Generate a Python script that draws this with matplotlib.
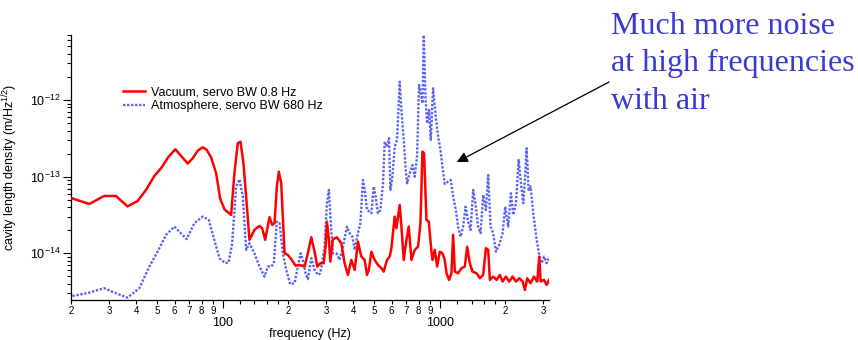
import matplotlib
matplotlib.use("Agg")
import matplotlib.pyplot as plt
import numpy as np

plt.rcParams['font.family'] = ['Liberation Sans', 'DejaVu Sans']
plt.rcParams['mathtext.fontset'] = 'custom'
plt.rcParams['mathtext.rm'] = 'Liberation Sans'
plt.rcParams['mathtext.it'] = 'Liberation Sans:italic'

# ---- data ----
vac_freq = [20.3, 24.3, 28.4, 32.2, 36.4, 40.5, 44.3, 48.4, 52.0, 56.3, 60.5, 69.0, 72.7, 76.7,
            80.9, 84.4, 88.4, 93.2, 97.3, 101.8, 109.3, 113.2, 117.3, 120.7, 124.6, 128.2, 132.8,
            140.0, 147.7, 152.0, 156.9, 164.3, 169.0, 173.3, 177.5, 181.3, 186.0, 192.7, 199.5,
            206.9, 216.5, 225.9, 238.2, 246.7, 255.8, 265.0, 272.7, 281.6, 291.6, 297.8, 302.0,
            308.4, 313.0, 321.8, 335.7, 351.9, 364.4, 377.4, 391.3, 405.3, 419.8, 435.2, 450.7,
            461.8, 471.7, 484.0, 501, 519, 538, 551.6, 571, 587.8, 598.5, 619.9, 631.2, 653.7,
            665.7, 682.2, 702, 719.4, 740.3, 766.7, 794.1, 814.5, 832.1, 846.4, 868.1, 889.6,
            899.2, 915.6, 925.3, 948.2, 971.7, 1000, 1029, 1054, 1074, 1104, 1132, 1152, 1173,
            1214, 1259, 1304, 1337, 1375, 1415, 1477, 1530, 1584, 1631, 1671, 1701, 1762, 1827,
            1892, 1947, 2016, 2089, 2165, 2243, 2323, 2408, 2467, 2529, 2621, 2715, 2812, 2872,
            2915, 3020, 3107, 3185]
vac_dens = [5.2e-14, 4.4e-14, 5.6e-14, 5.6e-14, 4.1e-14, 4.8e-14, 6.7e-14, 1.02e-13, 1.29e-13,
            1.82e-13, 2.28e-13, 1.48e-13, 1.74e-13, 2.18e-13, 2.42e-13, 2.23e-13, 1.79e-13,
            1.11e-13, 5.2e-14, 3.76e-14, 3.17e-14, 1.11e-13, 2.73e-13, 2.86e-13, 1.50e-13,
            5.48e-14, 1.50e-14, 2.02e-14, 2.28e-14, 2.12e-14, 1.50e-14, 2.96e-14, 2.35e-14,
            2.47e-14, 7.41e-14, 1.16e-13, 8.20e-14, 1.00e-14, 9.53e-15, 8.38e-15, 6.91e-15,
            7.06e-15, 6.71e-15, 1.00e-14, 1.62e-14, 1.05e-14, 6.71e-15, 7.43e-15, 7.43e-15,
            1.22e-14, 2.59e-14, 1.50e-14, 7.79e-15, 1.53e-14, 1.62e-14, 1.35e-14, 7.43e-15,
            5.23e-15, 8.20e-15, 6.08e-15, 1.42e-14, 9.06e-15, 8.20e-15, 5.23e-15, 6.20e-15,
            1.05e-14, 8.20e-15, 7.06e-15, 6.39e-15, 5.77e-15, 8.20e-15, 9.06e-15, 1.17e-14,
            3.01e-14, 2.12e-14, 4.28e-14, 2.23e-14, 8.20e-15, 1.50e-14, 2.23e-14, 8.20e-15,
            1.11e-14, 1.22e-14, 2.47e-14, 2.12e-13, 2.02e-13, 2.73e-14, 2.59e-14,
            1.83e-14, 1.05e-14, 8.2e-15, 1.11e-14, 6.71e-15, 1.05e-14, 1.0e-14, 8.2e-15, 5.5e-15,
            4.5e-15, 5.5e-15, 1.74e-14, 5.77e-15, 5.5e-15, 6.39e-15, 6.71e-15, 1.22e-14,
            7.43e-15, 5.77e-15, 5.5e-15, 4.73e-15, 5.23e-15, 1.17e-14, 1.11e-14, 4.5e-15,
            4.97e-15, 4.5e-15, 5.23e-15, 4.28e-15, 4.97e-15, 4.28e-15, 4.97e-15, 4.28e-15,
            4.73e-15, 4.28e-15, 3.33e-15, 4.73e-15, 4.07e-15, 4.97e-15, 4.28e-15, 9.06e-15,
            4.28e-15, 4.5e-15, 3.87e-15, 4.5e-15]

atm_freq = [20.3, 24.3, 28.4, 32.2, 36.4, 41.3, 45.9, 50.1, 54.8, 59.9, 68.2, 74.0, 80.9, 86.2,
            90.6, 96.6, 102.9, 106.6, 110.5, 115.3, 119.4, 123.7, 128.2, 132.8, 140.0, 147.7,
            155.8, 161.3, 167.3, 172.0, 177.5, 182.7, 189.2, 196.2, 204.6, 214.2, 221.9, 228.4,
            233.9, 240.8, 246.7, 255.8, 265.0, 274.4, 281.6, 294.8, 302.0, 308.4, 314.0, 321.8,
            333.7, 345.6, 357.9, 373.5, 384.4, 395.5, 405.3, 419.8, 430.6, 442.6, 450.7, 461.8,
            475.3, 484.0, 496.0, 506.7, 519, 532.5, 547.5, 557.5, 571, 583.5, 592.2, 604.9,
            619.9, 635.3, 653.7, 665.7, 682.2, 696.8, 706.5, 727.0, 748.2, 766.7, 785.6, 802.6,
            817.2, 832.1, 843.7, 859.0, 873.8, 892.5, 908.8, 931.2, 958.4, 982.2, 1007, 1029,
            1054, 1092, 1124, 1152, 1185, 1214, 1246, 1281, 1314, 1351, 1386, 1425, 1466, 1502,
            1541, 1584, 1631, 1671, 1714, 1762, 1813, 1878, 1947, 2001, 2066, 2126, 2179, 2243,
            2308, 2365, 2424, 2467, 2512, 2566, 2621, 2695, 2794, 2872, 2947, 3020, 3107, 3185]
atm_dens = [2.78e-15, 3.07e-15, 3.51e-15, 3.02e-15, 2.64e-15, 3.51e-15, 6.71e-15, 1.05e-14,
            1.74e-14, 2.23e-14, 1.53e-14, 2.47e-14, 3.01e-14, 2.73e-14, 1.65e-14, 8.63e-15,
            7.43e-15, 7.61e-15, 1.35e-14, 7.41e-14, 9.25e-14, 5.48e-14, 1.11e-14, 1.35e-14,
            1.00e-14, 6.71e-15, 4.97e-15, 6.71e-15, 6.71e-15, 7.43e-15, 2.59e-14, 2.47e-14,
            1.00e-14, 6.08e-15, 3.96e-15, 4.07e-15, 6.71e-15, 1.00e-14, 8.20e-15, 5.50e-15,
            4.60e-15, 8.63e-15, 6.08e-15, 5.23e-15, 5.50e-15, 1.22e-14, 4.50e-14, 6.71e-14,
            2.73e-14, 1.00e-14, 1.00e-14, 8.20e-15, 1.22e-14, 2.23e-14, 1.83e-14, 1.65e-14,
            1.11e-14, 1.83e-14, 2.47e-14, 9.06e-14, 6.71e-14, 3.68e-14, 3.50e-14, 3.33e-14,
            7.41e-14, 5.48e-14, 3.33e-14, 3.68e-14, 8.20e-14, 2.86e-13, 2.46e-13, 3.17e-13,
            6.71e-14, 1.0e-13, 2.46e-13, 3.01e-13, 1.73e-12, 7.41e-13, 3.01e-13, 1.22e-13,
            8.20e-14, 1.11e-13, 1.42e-13, 1.0e-13, 1.82e-13, 1.57e-12, 1.22e-12, 9.06e-13,
            7.04e-12, 1.10e-12, 4.97e-13, 7.41e-13, 3.01e-13, 1.42e-12, 6.06e-13, 3.32e-13,
            2.23e-13, 1.35e-13, 8.03e-14, 8.61e-14, 9.06e-14, 5.48e-14, 3.68e-14, 2.23e-14,
            1.65e-14, 2.23e-14, 4.06e-14, 2.59e-14, 2.02e-14, 6.71e-14, 4.06e-14, 2.23e-14,
            1.83e-14, 5.77e-14, 3.68e-14, 1.05e-13, 2.23e-14, 1.83e-14, 1.05e-14, 1.29e-14,
            1.83e-14, 4.06e-14, 2.23e-14, 6.08e-14, 3.17e-14, 4.50e-14, 1.65e-13, 8.20e-14,
            4.50e-14, 9.06e-14, 2.35e-13, 6.71e-14, 7.41e-14, 3.33e-14, 1.50e-14, 9.53e-15,
            7.43e-15, 9.06e-15, 7.43e-15, 9.06e-15]

series_labels = ["Vacuum, servo BW 0.8 Hz", "Atmosphere, servo BW 680 Hz"]
x_major = [100, 1000]
x_major_labels = ["100", "1000"]
x_minor = [20, 30, 40, 50, 60, 70, 80, 90, 120, 140, 160, 180, 200, 300, 400, 500, 600, 700,
           800, 900, 1200, 1400, 1600, 1800, 2000, 3000]
x_minor_labels = ["2", "3", "4", "5", "6", "7", "8", "9", "", "", "", "", "2", "3", "4", "5",
                  "6", "7", "8", "9", "", "", "", "", "2", "3"]
y_major = [1e-14, 1e-13, 1e-12]
y_major_labels = [r"10$^{-14}$", r"10$^{-13}$", r"10$^{-12}$"]
annotation = "Much more noise\nat high frequencies\nwith air"
arrow_target = (1198, 1.55e-13)

W, H = 858, 340
fig = plt.figure(figsize=(W / 100, H / 100), dpi=100)
ax = fig.add_axes([71 / W, 1 - 300 / H, (549 - 71) / W, (300 - 35) / H])

ax.plot(vac_freq, vac_dens, color='#ff0000', lw=1.8, label=series_labels[0], zorder=3)
ax.plot(atm_freq, atm_dens, color='#5a62f2', lw=1.7, linestyle=(0, (1, 0.7)),
        label=series_labels[1], zorder=2)

ax.set_xscale('log')
ax.set_yscale('log')
ax.set_xlim(20, 3185)
ax.set_ylim(2.46e-15, 7.05e-12)

ax.set_xticks(x_major, labels=x_major_labels)
ax.set_xticks(x_minor, labels=x_minor_labels, minor=True)
ax.set_yticks(y_major, labels=y_major_labels)
ax.yaxis.set_minor_locator(matplotlib.ticker.LogLocator(base=10, subs=np.arange(2, 10)))
ax.yaxis.set_minor_formatter(matplotlib.ticker.NullFormatter())

ax.tick_params(axis='x', which='major', length=5.5, width=0.8, labelsize=9, pad=6.5)
ax.tick_params(axis='x', which='minor', length=3, width=0.8, labelsize=7, pad=1.2)
ax.tick_params(axis='y', which='major', length=5.5, width=0.8, labelsize=9, pad=2)
ax.tick_params(axis='y', which='minor', length=3, width=0.8)

for s in ['top', 'right']:
    ax.spines[s].set_visible(False)
for s in ['left', 'bottom']:
    ax.spines[s].set_linewidth(0.9)

ax.set_xlabel("frequency (Hz)", fontsize=9, va='bottom')
ax.xaxis.set_label_coords(0.5, -39.5 / 265)
ax.set_ylabel(r"cavity length density (m/Hz$^{1/2}$)", fontsize=9, labelpad=7)

leg = ax.legend(loc='upper left', bbox_to_anchor=(0.098, 0.825), frameon=False, fontsize=9,
                handlelength=1.8, handletextpad=0.45, labelspacing=0.15, borderaxespad=0)

fig.text(611 / W, 1 - 12 / H, annotation, fontsize=23, color='#3a3ad0', va='top', ha='left',
         family=['Liberation Serif', 'DejaVu Serif'], linespacing=1.38)

ax.annotate("", xy=arrow_target, xycoords='data', xytext=(609 / W, 1 - 82 / H),
            textcoords='figure fraction',
            arrowprops=dict(arrowstyle='-|>', color='black', lw=0.9, mutation_scale=16,
                            shrinkA=0, shrinkB=0), annotation_clip=False)

fig.savefig("out.png", dpi=100)
